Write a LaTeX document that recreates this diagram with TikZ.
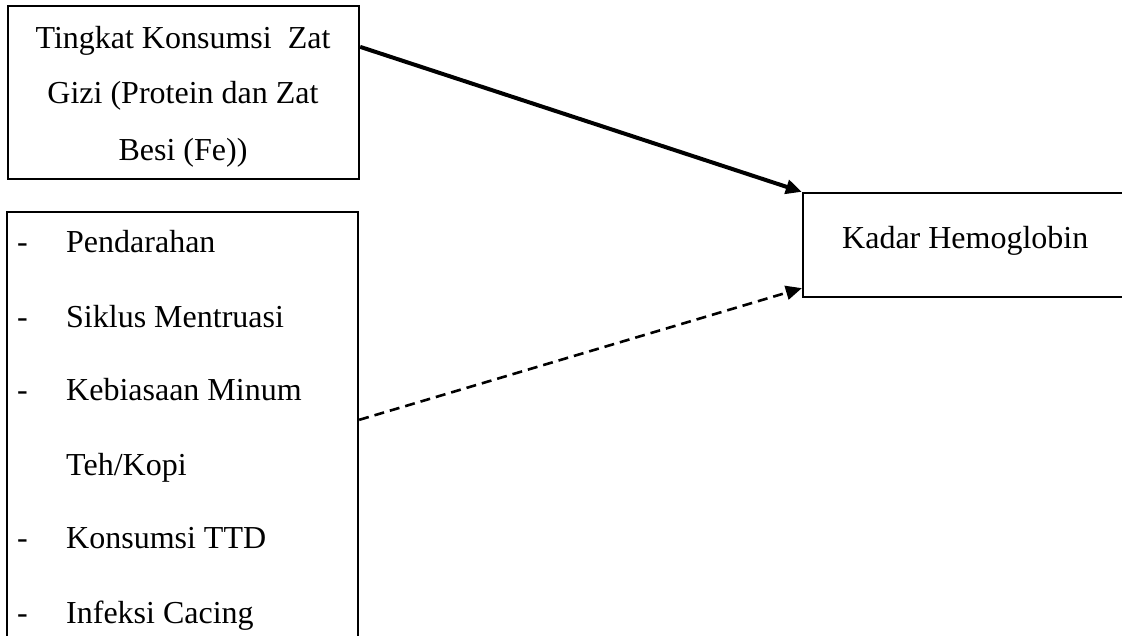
\documentclass[tikz,border=0pt]{standalone}
\usepackage{fontspec}
\setmainfont{Liberation Serif}
\usetikzlibrary{arrows.meta}
\begin{document}
\begin{tikzpicture}[x=1pt,y=-1pt,
  boxs/.style={draw,line width=2.3pt,rectangle,inner sep=0pt},
  txt/.style={anchor=base,inner sep=0pt,font=\fontsize{32}{40}\selectfont},
  ltxt/.style={anchor=base west,inner sep=0pt,font=\fontsize{32}{40}\selectfont},
  tip/.style={-{Triangle[length=16pt,width=14pt]}}]
\useasboundingbox (0,0) rectangle (1122,635);
\clip (0,0) rectangle (1122,635);
% boxes
\node[boxs,minimum width=351pt,minimum height=173pt] (b1) at (183.5,92.5) {};
\node[boxs,minimum width=351pt,minimum height=460pt] (b2) at (182.5,442) {};
\node[boxs,minimum width=340pt,minimum height=104pt] (b3) at (973,245) {};
% texts box 1
\node[txt] (t1) at (183,48) {Tingkat Konsumsi\ \ Zat};
\node[txt] (t2) at (183,103) {Gizi (Protein dan Zat};
\node[txt] (t3) at (183,160) {Besi (Fe))};
% texts box 2
\foreach \y/\s [count=\i] in {252/Pendarahan,327/Siklus Mentruasi,400/Kebiasaan Minum,548/Konsumsi TTD,623/Infeksi Cacing}{
  \node[ltxt] (d\i) at (17,\y) {-};
  \node[ltxt] (l\i) at (66,\y) {\s};
}
\node[ltxt] (l6) at (66,475) {Teh/Kopi};
% box 3 text
\node[ltxt] (t4) at (842,248) {Kadar Hemoglobin};
% arrows
\draw[tip,line width=4pt] ([yshift=-42pt]b1.north east) -- (b3.north west);
\draw[tip,line width=2.6pt,dash pattern=on 10pt off 6pt] ([yshift=-209pt]b2.north east) -- ([yshift=10pt]b3.south west);
\end{tikzpicture}
\end{document}
